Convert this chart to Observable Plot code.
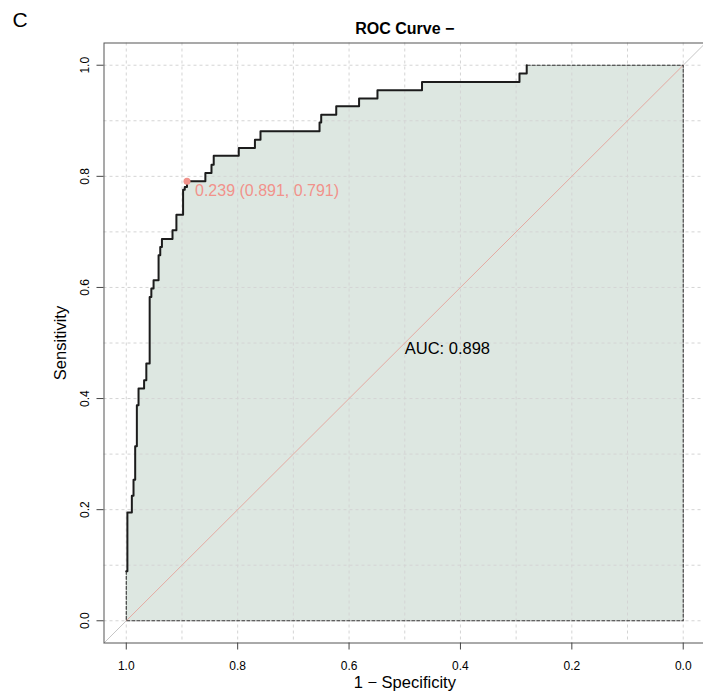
<!DOCTYPE html>
<html><head><meta charset="utf-8">
<script src="https://cdn.jsdelivr.net/npm/d3@7"></script>
<script src="https://cdn.jsdelivr.net/npm/@observablehq/plot@0.6"></script>
<style>body{margin:0;background:#fff;}</style>
</head><body><div id="chart"></div>
<script>
// ROC curve corner points (specificity, sensitivity)
const spec = [1.000,0.998,0.998,0.990,0.990,0.987,0.987,0.984,0.984,0.981,0.981,0.978,0.978,0.968,0.968,0.964,0.964,0.958,0.958,0.955,0.955,0.951,0.951,0.942,0.942,0.939,0.939,0.936,0.936,0.917,0.917,0.910,0.910,0.898,0.898,0.895,0.895,0.891,0.891,0.858,0.858,0.847,0.847,0.843,0.843,0.798,0.798,0.769,0.769,0.759,0.759,0.653,0.653,0.650,0.650,0.623,0.623,0.582,0.582,0.549,0.549,0.469,0.469,0.294,0.294,0.281,0.281];
const sens = [0.089,0.089,0.195,0.195,0.225,0.225,0.254,0.254,0.314,0.314,0.388,0.388,0.418,0.418,0.433,0.433,0.463,0.463,0.583,0.583,0.598,0.598,0.613,0.613,0.658,0.658,0.673,0.673,0.687,0.687,0.703,0.703,0.731,0.731,0.776,0.776,0.781,0.781,0.791,0.791,0.806,0.806,0.821,0.821,0.837,0.837,0.851,0.851,0.866,0.866,0.881,0.881,0.897,0.897,0.911,0.911,0.926,0.926,0.940,0.940,0.955,0.955,0.970,0.970,0.985,0.985,1.000];

const xTicks = [1.0, 0.8, 0.6, 0.4, 0.2, 0.0];
const yTicks = [0.0, 0.2, 0.4, 0.6, 0.8, 1.0];
const gridValues = [0,0.1,0.2,0.3,0.4,0.5,0.6,0.7,0.8,0.9,1.0];
const xDomain = [1.04, -0.04];
const yDomain = [-0.04, 1.04];

const bestThreshold = 0.239;
const bestSpec = 0.891;
const bestSens = 0.791;
const aucValue = 0.898;

const titleText = "ROC Curve \u2212";
const panelLetter = "C";
const xLabel = "1 \u2212 Specificity";
const yLabel = "Sensitivity";

// build tables
const curve = spec.map((s, i) => ({spec: s, sens: sens[i]}));
const first = curve[0], last = curve[curve.length - 1];
const areaData = [{spec: first.spec, sens: 0}, ...curve, {spec: 0, sens: 1}];
const border = [
  {spec: first.spec, sens: first.sens},
  {spec: first.spec, sens: 0},
  {spec: 0, sens: 0},
  {spec: 0, sens: 1},
  {spec: last.spec, sens: last.sens}
];
const diagFull = [{spec: xDomain[0], sens: yDomain[0]}, {spec: xDomain[1], sens: yDomain[1]}];
const diagRef = [{spec: 1, sens: 0}, {spec: 0, sens: 1}];

const font = "'Liberation Sans', Arial, Helvetica, sans-serif";
const salmon = "#f1928b";

const plot = Plot.plot({
  width: 703,
  height: 698,
  marginLeft: 103.5,
  marginRight: -2,
  marginTop: 42.5,
  marginBottom: 55.5,
  style: {fontFamily: font, fontSize: "12px", background: "#fff", color: "#000"},
  x: {domain: xDomain},
  y: {domain: yDomain},
  marks: [
    Plot.line(diagFull, {x: "spec", y: "sens", stroke: "#c6c6c6", strokeWidth: 1}),
    Plot.area(areaData, {x1: "spec", y1: () => 0, y2: "sens", fill: "#dde7e1"}),
    Plot.gridX(gridValues, {stroke: "#d4d4d4", strokeOpacity: 1, strokeDasharray: "3,3"}),
    Plot.gridY(gridValues, {stroke: "#d4d4d4", strokeOpacity: 1, strokeDasharray: "3,3"}),
    Plot.line(diagRef, {x: "spec", y: "sens", stroke: "#e4aaa2", strokeWidth: 1}),
    Plot.line(border, {x: "spec", y: "sens", stroke: "#333", strokeWidth: 1.1, strokeDasharray: "3,2"}),
    Plot.line(curve, {x: "spec", y: "sens", stroke: "#1c1c1c", strokeWidth: 2}),
    Plot.dot([{spec: bestSpec, sens: bestSens}], {x: "spec", y: "sens", r: 3.5, fill: salmon, stroke: "none"}),
    Plot.text([{spec: bestSpec, sens: bestSens}], {x: "spec", y: "sens",
      text: d => `${bestThreshold.toFixed(3)} (${bestSpec.toFixed(3)}, ${bestSens.toFixed(3)})`,
      fill: salmon, fontSize: 16, textAnchor: "start", lineAnchor: "top", dx: 8, dy: 3.5}),
    Plot.text([{spec: 0.5, sens: 0.5}], {x: "spec", y: "sens",
      text: d => `AUC: ${aucValue.toFixed(3)}`, fill: "#000", fontSize: 16.5,
      textAnchor: "start", lineAnchor: "middle", dy: 6}),
    Plot.frame({stroke: "#555", strokeWidth: 1}),
    Plot.axisX(xTicks, {tickSize: 7, tickPadding: 11, tickFormat: d => d.toFixed(1), label: null, stroke: "#444", fontSize: 12}),
    Plot.axisY(yTicks, {tickSize: 7, tickFormat: () => "", label: null, stroke: "#444"}),
    Plot.text(yTicks, {y: d => d, text: d => d.toFixed(1), frameAnchor: "left", rotate: -90,
      textAnchor: "middle", lineAnchor: "bottom", dx: -15.5, fontSize: 12}),
    Plot.text([xLabel], {text: d => d, frameAnchor: "bottom", lineAnchor: "bottom", dy: 44.5, fontSize: 16.5}),
    Plot.text([yLabel], {text: d => d, frameAnchor: "left", rotate: -90, textAnchor: "middle", lineAnchor: "bottom", dx: -38.5, fontSize: 16.5}),
    Plot.text([titleText], {text: d => d, frameAnchor: "top", lineAnchor: "bottom", dy: -9.5, fontSize: 16, fontWeight: "bold"}),
    Plot.text([panelLetter], {text: d => d, frameAnchor: "top-left", textAnchor: "start", lineAnchor: "bottom", dx: -91.5, dy: -16.5, fontSize: 21})
  ]
});
document.getElementById("chart").appendChild(plot);
</script>
</body></html>
